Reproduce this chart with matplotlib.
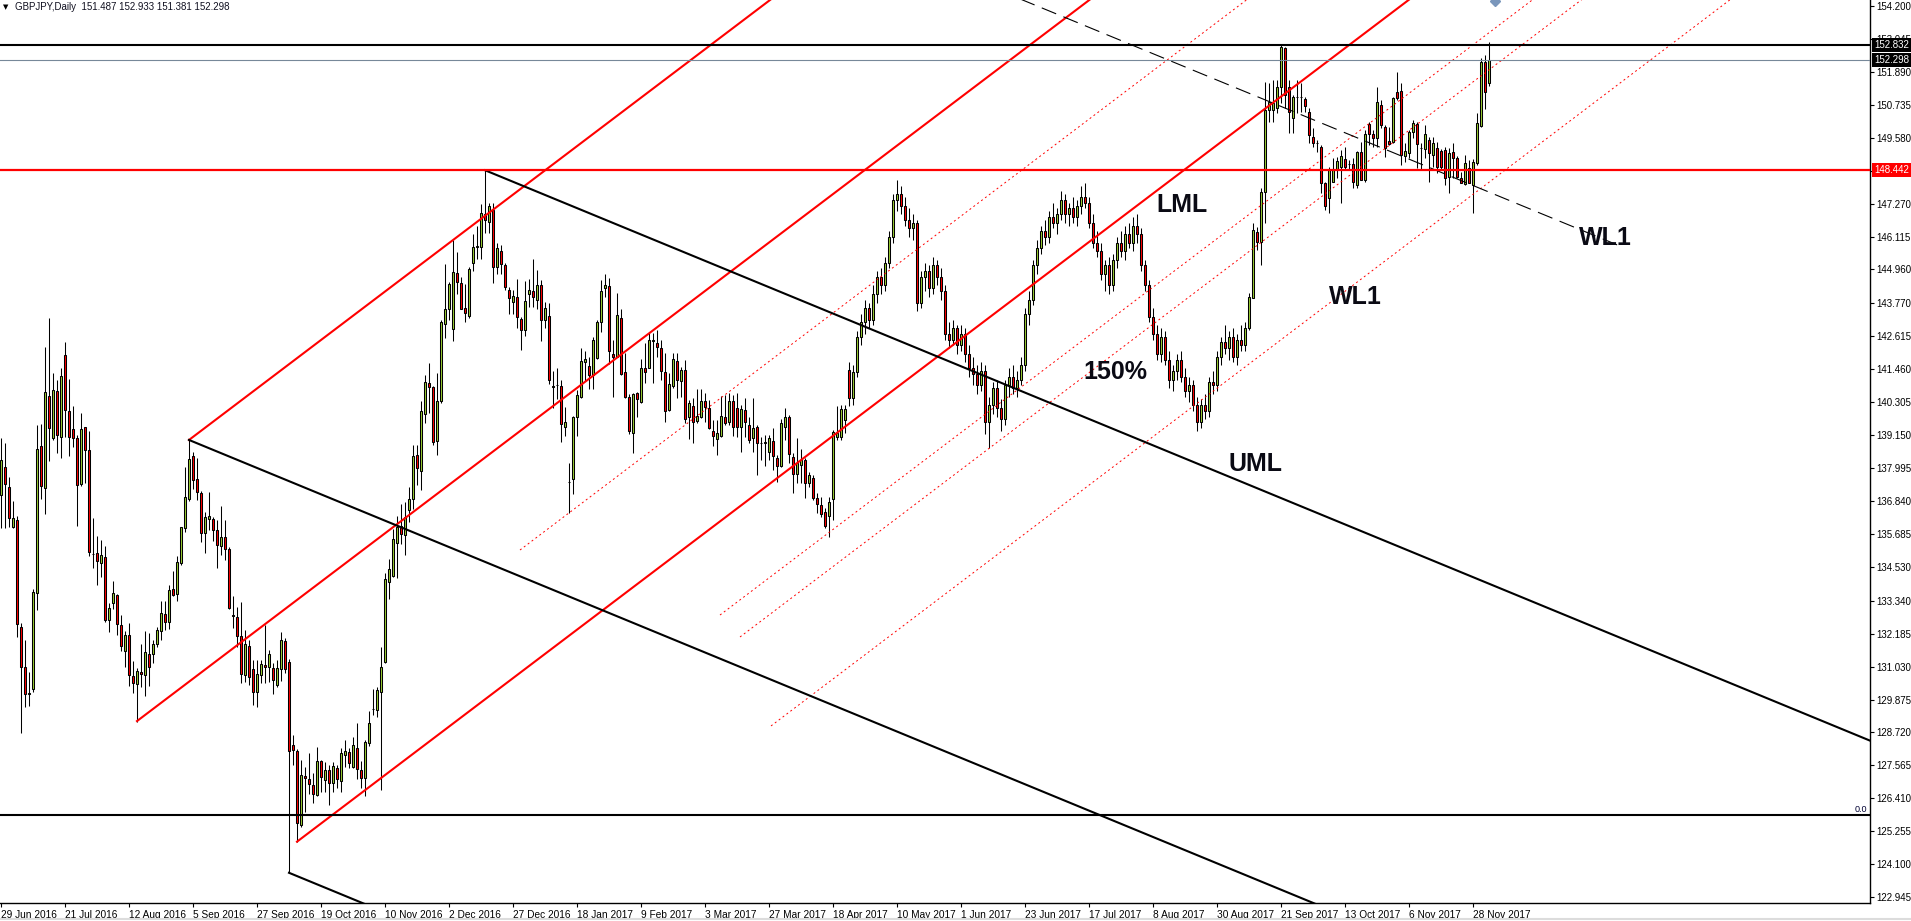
import matplotlib
matplotlib.use("Agg")
import matplotlib.pyplot as plt
import numpy as np
from matplotlib.lines import Line2D
from matplotlib.transforms import blended_transform_factory

plt.rcParams['font.family'] = ['Liberation Sans', 'DejaVu Sans']

# daily GBPJPY candles (bar 0 = 29 Jun 2016)
opens = [
    137.05, 138.02, 137.32, 135.94, 136.19, 132.43, 131.00, 130.08, 130.23, 133.60,
    138.77, 137.28, 140.51, 139.04, 140.70, 139.07, 141.96, 139.99, 139.36, 139.04,
    137.42, 139.43, 138.62, 134.97, 135.00, 134.65, 134.86, 132.66, 133.25, 133.54,
    132.49, 131.59, 132.14, 130.70, 130.41, 130.83, 130.73, 131.46, 131.49, 131.81,
    132.28, 132.87, 132.60, 133.75, 133.56, 134.67, 135.90, 136.90, 138.42, 137.60,
    137.13, 135.70, 136.22, 136.20, 135.82, 135.27, 135.56, 135.14, 132.82, 132.76,
    132.10, 130.74, 131.75, 130.93, 130.15, 130.73, 131.09, 131.03, 130.97, 130.38,
    130.93, 131.93, 131.18, 128.28, 128.07, 125.47, 127.19, 127.08, 126.88, 126.52,
    127.72, 127.05, 127.40, 126.94, 127.46, 127.03, 127.93, 128.02, 127.52, 128.19,
    127.40, 127.11, 128.36, 129.53, 129.51, 130.14, 131.20, 133.99, 134.22, 135.36,
    135.97, 135.64, 136.53, 136.90, 138.44, 137.90, 139.90, 140.98, 140.84, 138.95,
    140.33, 143.05, 143.59, 142.87, 144.82, 144.48, 143.61, 143.33, 145.18, 145.75,
    145.76, 146.90, 146.64, 147.05, 145.05, 145.59, 145.13, 144.25, 143.82, 143.99,
    143.22, 142.84, 144.10, 144.21, 143.90, 144.41, 143.18, 143.33, 140.84, 140.90,
    140.87, 139.44, 137.49, 137.60, 139.77, 140.47, 141.70, 141.57, 141.26, 141.84,
    143.10, 144.30, 144.38, 141.98, 141.90, 143.24, 141.35, 140.50, 139.23, 140.61,
    140.30, 141.49, 141.51, 142.45, 142.39, 142.19, 141.35, 140.03, 140.87, 141.75,
    141.06, 141.43, 139.77, 140.17, 139.64, 139.80, 140.35, 140.09, 139.30, 139.03,
    139.12, 139.80, 139.62, 140.36, 140.09, 139.45, 140.03, 139.50, 139.04, 139.44,
    138.86, 138.86, 138.57, 138.94, 138.33, 138.07, 139.45, 139.80, 138.39, 137.78,
    138.10, 138.28, 137.46, 137.63, 136.93, 136.70, 136.46, 136.31, 136.90, 139.09,
    139.07, 139.68, 141.43, 140.44, 141.35, 142.60, 143.10, 143.60, 143.20, 144.10,
    144.70, 144.40, 145.20, 146.10, 147.40, 147.60, 147.20, 146.70, 146.40, 146.60,
    143.80, 144.70, 144.90, 144.30, 145.10, 144.70, 144.20, 142.70, 142.50, 142.90,
    142.30, 142.70, 142.00, 141.50, 141.30, 140.90, 141.40, 139.60, 140.20, 140.80,
    140.10, 139.70, 140.90, 141.20, 140.80, 141.10, 141.60, 143.40, 143.90, 145.10,
    145.70, 146.30, 146.10, 146.80, 146.60, 146.90, 147.40, 146.90, 147.10, 146.80,
    147.20, 147.50, 147.30, 146.60, 145.90, 145.60, 144.80, 145.10, 144.40, 145.30,
    145.90, 145.60, 146.20, 145.90, 146.50, 146.20, 145.10, 144.40, 143.30, 142.70,
    142.00, 142.60, 141.80, 141.10, 141.40, 141.80, 141.20, 140.70, 140.90, 140.20,
    139.60, 140.20, 140.00, 141.00, 140.90, 141.90, 142.40, 142.20, 142.60, 141.90,
    142.50, 142.30, 142.89, 143.95, 146.28, 145.93, 147.66, 150.55, 150.55, 150.61,
    151.37, 152.71, 151.35, 150.26, 151.02, 151.02, 150.94, 150.49, 149.59, 149.38,
    149.27, 148.00, 147.45, 148.04, 148.45, 148.56, 148.83, 148.65, 148.65, 147.92,
    149.09, 148.10, 150.05, 149.70, 149.56, 150.73, 149.97, 149.46, 149.44, 151.19,
    151.22, 148.95, 149.03, 149.77, 150.05, 149.21, 149.17, 149.50, 148.97, 149.21,
    149.11, 149.15, 148.21, 149.07, 148.88, 148.16, 147.96, 148.53, 147.92, 148.68,
    150.00, 152.25, 151.487,
]
highs = [
    139.04, 138.86, 137.69, 136.84, 136.30, 132.55, 131.96, 130.83, 133.77, 139.50,
    139.54, 142.25, 143.24, 141.32, 141.08, 141.49, 142.40, 141.12, 140.17, 139.15,
    139.91, 139.44, 139.29, 136.26, 135.61, 135.47, 135.26, 133.27, 134.03, 133.56,
    132.84, 132.28, 132.57, 131.23, 130.97, 131.84, 132.28, 132.20, 131.96, 132.43,
    133.33, 133.34, 133.89, 134.39, 134.91, 135.94, 138.04, 138.98, 138.57, 138.36,
    137.20, 136.46, 137.17, 136.29, 136.17, 136.66, 136.17, 135.24, 133.50, 133.13,
    133.31, 132.31, 131.96, 131.28, 131.26, 131.28, 132.49, 131.61, 131.17, 131.28,
    132.25, 132.02, 131.30, 128.63, 128.15, 127.75, 127.52, 127.99, 127.29, 128.22,
    127.75, 127.69, 127.58, 127.69, 127.58, 128.16, 128.46, 128.16, 128.57, 129.04,
    127.73, 128.46, 129.47, 130.23, 130.33, 131.71, 134.33, 134.79, 135.87, 136.33,
    136.72, 136.79, 137.33, 138.79, 138.79, 140.33, 141.25, 141.67, 140.87, 141.33,
    143.18, 145.15, 144.53, 145.98, 145.56, 144.69, 144.44, 145.05, 146.21, 146.49,
    147.26, 148.44, 147.29, 147.29, 145.90, 145.82, 145.18, 144.33, 144.25, 144.64,
    143.30, 144.56, 144.64, 145.33, 144.95, 144.59, 143.82, 143.79, 141.41, 141.49,
    141.08, 140.15, 138.18, 139.82, 140.73, 142.22, 142.11, 141.90, 142.60, 143.19,
    144.59, 144.80, 144.65, 142.48, 144.12, 143.56, 142.02, 140.58, 140.61, 140.67,
    141.81, 142.39, 142.72, 142.72, 142.83, 142.48, 142.02, 141.32, 142.02, 142.04,
    141.55, 141.78, 140.38, 140.44, 140.75, 140.75, 140.61, 140.38, 139.68, 139.68,
    140.52, 140.55, 140.61, 140.55, 140.61, 140.21, 140.44, 139.80, 140.44, 139.50,
    139.09, 139.15, 139.15, 139.39, 138.45, 139.70, 140.09, 139.85, 138.51, 139.04,
    138.68, 138.33, 137.87, 137.75, 137.11, 136.99, 136.58, 136.99, 139.33, 140.17,
    140.21, 140.21, 141.72, 141.60, 142.80, 143.40, 143.90, 143.80, 144.40, 144.90,
    145.00, 145.40, 146.30, 147.60, 148.10, 147.90, 147.50, 147.10, 146.90, 146.70,
    144.90, 145.20, 145.10, 145.40, 145.30, 145.00, 144.40, 143.10, 143.20, 143.00,
    143.00, 142.90, 142.30, 141.90, 141.60, 141.70, 141.60, 140.50, 141.00, 141.10,
    140.40, 141.10, 141.50, 141.60, 141.40, 141.90, 143.60, 144.20, 145.30, 146.00,
    146.50, 146.70, 147.00, 147.30, 147.10, 147.70, 147.60, 147.30, 147.50, 147.40,
    147.90, 148.00, 147.50, 146.90, 146.30, 145.90, 145.30, 145.40, 145.50, 146.10,
    146.30, 146.50, 146.60, 146.80, 146.90, 146.40, 145.30, 144.60, 143.60, 143.00,
    142.90, 142.80, 142.10, 141.60, 142.00, 142.10, 141.50, 141.20, 141.10, 140.50,
    140.40, 140.60, 141.20, 141.40, 142.10, 142.60, 143.00, 142.80, 142.90, 142.70,
    143.00, 143.10, 144.12, 146.58, 146.46, 147.80, 151.55, 151.49, 151.60, 151.60,
    152.83, 152.77, 151.60, 151.08, 151.60, 151.49, 151.02, 150.61, 149.91, 149.50,
    149.32, 148.04, 148.54, 148.88, 148.91, 149.15, 149.27, 148.80, 148.86, 149.11,
    149.44, 149.85, 150.14, 149.85, 151.37, 150.90, 150.03, 149.97, 151.02, 151.90,
    151.49, 149.38, 149.85, 150.20, 150.14, 149.38, 150.03, 149.62, 149.62, 149.44,
    149.17, 149.27, 149.23, 149.38, 148.94, 148.39, 148.97, 148.80, 148.83, 150.43,
    152.36, 152.48, 152.933,
]
lows = [
    135.88, 135.88, 135.94, 135.88, 132.08, 128.69, 129.62, 129.65, 130.15, 133.01,
    136.91, 136.40, 138.25, 138.98, 138.51, 138.33, 139.09, 138.43, 138.74, 135.97,
    137.36, 137.48, 134.91, 134.50, 133.91, 134.18, 132.60, 132.25, 133.05, 132.14,
    131.58, 131.03, 130.35, 130.09, 129.10, 130.30, 130.01, 130.36, 131.17, 131.73,
    131.96, 132.31, 132.34, 133.50, 133.34, 134.59, 135.74, 136.85, 137.25, 136.87,
    135.41, 135.03, 135.82, 135.45, 134.48, 134.94, 134.77, 133.04, 132.37, 131.73,
    130.44, 130.50, 130.38, 129.68, 129.62, 130.44, 130.47, 130.50, 130.07, 130.33,
    130.54, 130.79, 123.80, 127.58, 124.89, 125.40, 125.94, 126.58, 126.23, 126.49,
    126.64, 126.64, 126.17, 126.64, 126.76, 126.64, 127.52, 127.49, 127.46, 127.08,
    126.76, 126.50, 128.25, 129.33, 129.25, 126.71, 131.17, 133.41, 134.18, 134.13,
    135.33, 134.94, 136.10, 136.56, 137.41, 137.21, 139.56, 139.94, 138.79, 138.44,
    140.28, 142.56, 143.18, 142.44, 144.10, 143.56, 143.10, 143.25, 144.90, 145.33,
    145.33, 146.25, 146.25, 144.49, 144.79, 144.79, 144.25, 143.41, 143.41, 142.90,
    142.13, 142.64, 143.64, 143.64, 143.56, 142.44, 142.90, 140.95, 140.10, 140.40,
    138.92, 139.12, 136.43, 137.07, 139.12, 140.44, 141.05, 140.75, 140.75, 141.81,
    142.78, 143.98, 141.64, 140.47, 141.88, 141.26, 140.45, 139.19, 138.53, 139.80,
    140.26, 140.99, 141.49, 140.99, 141.90, 141.08, 139.62, 140.01, 140.81, 140.44,
    140.50, 139.56, 139.01, 138.86, 139.56, 139.76, 139.62, 139.35, 138.76, 138.45,
    139.09, 139.50, 139.50, 139.12, 139.09, 138.57, 139.09, 138.86, 138.57, 137.75,
    138.28, 138.06, 138.28, 137.92, 137.52, 138.04, 138.98, 138.16, 137.11, 137.46,
    137.46, 136.93, 137.34, 136.87, 136.41, 136.29, 135.90, 135.59, 136.17, 138.98,
    138.98, 139.21, 140.17, 140.20, 141.20, 142.30, 142.70, 142.90, 143.00, 143.80,
    144.10, 144.20, 145.00, 145.90, 147.00, 146.90, 146.50, 146.10, 146.00, 143.50,
    143.60, 144.20, 144.00, 144.10, 144.40, 143.90, 142.50, 142.20, 142.30, 142.00,
    142.10, 141.70, 141.20, 140.90, 140.60, 140.70, 139.20, 138.70, 139.90, 139.80,
    139.30, 139.50, 140.50, 140.60, 140.50, 140.90, 141.40, 143.00, 143.70, 144.80,
    145.50, 145.80, 145.90, 146.40, 146.20, 146.70, 146.60, 146.50, 146.60, 146.50,
    146.90, 147.10, 146.40, 145.70, 145.40, 144.60, 144.20, 144.10, 144.20, 145.00,
    145.40, 145.30, 145.70, 145.60, 145.90, 144.90, 144.20, 143.10, 142.50, 141.80,
    141.70, 141.60, 140.80, 140.70, 141.10, 141.00, 140.50, 140.30, 140.00, 139.30,
    139.40, 139.70, 139.80, 140.60, 140.70, 141.60, 142.00, 141.80, 141.70, 141.60,
    142.10, 142.10, 142.84, 143.95, 145.64, 145.12, 146.58, 150.14, 150.14, 150.43,
    150.79, 150.61, 149.73, 149.73, 150.43, 150.49, 150.49, 149.38, 149.27, 149.09,
    147.63, 147.05, 146.95, 148.04, 148.16, 147.28, 148.45, 148.45, 147.80, 147.80,
    148.10, 148.04, 149.32, 149.27, 149.27, 149.91, 148.91, 149.32, 149.38, 150.90,
    148.62, 148.74, 148.86, 149.56, 148.51, 148.45, 148.86, 148.04, 148.56, 148.33,
    148.45, 147.92, 147.63, 148.16, 148.16, 147.98, 147.92, 147.98, 146.95, 148.62,
    149.97, 150.57, 151.381,
]
closes = [
    138.28, 137.42, 136.23, 136.26, 132.52, 131.01, 130.06, 130.10, 133.63, 138.68,
    137.38, 140.65, 139.39, 140.73, 139.15, 141.22, 140.02, 139.07, 139.04, 137.39,
    139.36, 138.64, 135.04, 134.99, 134.74, 134.94, 132.66, 133.07, 133.60, 132.51,
    131.77, 132.14, 130.72, 130.44, 130.87, 130.77, 131.53, 131.00, 131.81, 132.31,
    132.90, 132.60, 133.72, 133.54, 134.69, 135.92, 136.99, 138.30, 137.58, 137.14,
    135.73, 136.27, 136.31, 135.82, 135.31, 135.56, 135.14, 133.07, 132.84, 132.11,
    130.77, 131.82, 130.65, 130.15, 130.77, 131.11, 131.00, 131.46, 130.56, 130.97,
    131.98, 130.93, 128.08, 128.10, 125.56, 127.23, 127.11, 126.91, 126.58, 127.72,
    127.15, 127.40, 126.94, 127.54, 127.08, 128.01, 128.07, 127.66, 128.28, 127.43,
    127.11, 128.37, 129.06, 129.55, 130.20, 131.02, 134.10, 134.44, 135.51, 135.94,
    135.67, 136.28, 136.90, 138.41, 137.99, 139.98, 141.02, 140.82, 138.92, 140.36,
    143.10, 143.59, 144.45, 144.87, 144.52, 143.59, 143.45, 144.98, 145.75, 145.79,
    146.95, 146.69, 147.18, 145.05, 145.72, 145.15, 144.36, 143.95, 144.02, 143.28,
    142.84, 143.84, 144.25, 143.99, 144.41, 143.18, 143.61, 141.10, 140.86, 140.92,
    139.53, 139.60, 137.52, 139.77, 140.56, 141.75, 141.81, 141.26, 142.48, 143.10,
    144.20, 144.42, 142.10, 141.88, 143.36, 141.28, 140.50, 139.30, 140.58, 140.40,
    141.49, 141.35, 142.48, 142.47, 142.25, 141.41, 140.00, 140.93, 141.81, 141.08,
    141.43, 139.70, 140.26, 139.60, 139.82, 140.35, 140.12, 139.39, 139.12, 139.21,
    139.82, 139.56, 140.36, 139.44, 139.44, 140.05, 139.62, 138.98, 139.39, 138.86,
    138.88, 138.90, 139.04, 138.42, 138.07, 139.56, 139.80, 138.49, 137.78, 138.18,
    138.28, 137.46, 137.75, 136.93, 136.73, 136.38, 135.96, 136.81, 139.27, 139.23,
    140.05, 140.05, 140.44, 141.35, 142.60, 143.10, 143.60, 143.20, 144.10, 144.70,
    144.40, 145.20, 146.10, 147.40, 147.60, 147.20, 146.70, 146.40, 146.60, 143.80,
    144.70, 144.90, 144.30, 145.10, 144.70, 144.20, 142.70, 142.50, 142.90, 142.30,
    142.70, 142.00, 141.50, 141.30, 140.90, 141.40, 139.60, 140.20, 140.80, 140.10,
    139.70, 140.90, 141.20, 140.80, 141.10, 141.60, 143.40, 143.90, 145.10, 145.70,
    146.30, 146.10, 146.80, 146.60, 146.90, 147.40, 146.90, 147.10, 146.80, 147.20,
    147.50, 147.30, 146.60, 145.90, 145.60, 144.80, 145.10, 144.40, 145.30, 145.90,
    145.60, 146.20, 145.90, 146.50, 146.20, 145.10, 144.40, 143.30, 142.70, 142.00,
    142.60, 141.80, 141.10, 141.40, 141.80, 141.20, 140.70, 140.90, 140.20, 139.60,
    140.20, 140.00, 141.00, 140.90, 141.90, 142.40, 142.20, 142.60, 141.90, 142.50,
    142.30, 142.89, 144.00, 146.34, 145.93, 147.66, 150.55, 150.84, 150.79, 151.35,
    152.75, 151.08, 150.49, 151.02, 151.02, 151.02, 150.69, 149.67, 149.38, 149.38,
    147.98, 147.19, 148.45, 148.48, 148.76, 148.95, 148.56, 148.65, 148.04, 149.09,
    148.10, 149.70, 149.71, 149.58, 150.84, 150.03, 149.21, 149.35, 150.96, 150.96,
    148.97, 149.11, 149.77, 150.08, 149.35, 149.21, 149.70, 149.03, 149.38, 148.56,
    148.54, 148.16, 149.03, 148.86, 148.21, 148.00, 148.68, 147.98, 148.72, 150.08,
    152.25, 151.17, 152.298,
]

date_labels = ["29 Jun 2016", "21 Jul 2016", "12 Aug 2016", "5 Sep 2016", "27 Sep 2016",
               "19 Oct 2016", "10 Nov 2016", "2 Dec 2016", "27 Dec 2016", "18 Jan 2017",
               "9 Feb 2017", "3 Mar 2017", "27 Mar 2017", "18 Apr 2017", "10 May 2017",
               "1 Jun 2017", "23 Jun 2017", "17 Jul 2017", "8 Aug 2017", "30 Aug 2017",
               "21 Sep 2017", "13 Oct 2017", "6 Nov 2017", "28 Nov 2017"]
label_step = 16

price_ticks = [154.200, 153.045, 151.890, 150.735, 149.580, 148.425, 147.270, 146.115,
               144.960, 143.770, 142.615, 141.460, 140.305, 139.150, 137.995, 136.840,
               135.685, 134.530, 133.340, 132.185, 131.030, 129.875, 128.720, 127.565,
               126.410, 125.255, 124.100, 122.945]

resistance = 152.832
bid = 152.298
support = 148.442
fib_zero = 125.82

# pitchfork anchor points (bar, price): handle, then the two swing points
red_fork = [(34, 129.12), (47, 138.98), (74, 124.89)]
black_fork = [(47, 138.98), (121, 148.44), (72, 123.80)]
red_dotted_starts = [(129.75, 135.12), (179.75, 132.84), (184.75, 132.07), (192.5, 128.95)]
wl1_start, wl1_end = 150, 405

notes = [("LML", 295.25, 147.22), ("WL1", 338.5, 143.99), ("150%", 278.5, 141.36),
         ("UML", 313.5, 138.14), ("WL1", 401, 146.06)]

title = "GBPJPY,Daily  151.487 152.933 151.381 152.298"

W, H = 1911, 921
fig = plt.figure(figsize=(W / 100, H / 100), dpi=100)
ax = fig.add_axes([0, 18 / H, 1870 / W, 903 / H])
x_max = 467.25
ax.set_xlim(-0.25, x_max)
ax.set_ylim(122.74, 154.41)

o = np.array(opens)
h = np.array(highs)
l = np.array(lows)
c = np.array(closes)
x = np.arange(len(o))
up = c >= o

# candles
ax.vlines(x, l, h, color='black', linewidth=0.75, zorder=3)
ax.bar(x[up], (c - o)[up], bottom=o[up], width=0.55, color='#9acd32',
       edgecolor='black', linewidth=0.75, zorder=4)
ax.bar(x[~up], (c - o)[~up], bottom=o[~up], width=0.55, color='#ff0000',
       edgecolor='black', linewidth=0.75, zorder=4)


def fork_slope(fork):
    (x0, y0), (x1, y1), (x2, y2) = fork
    return ((y1 + y2) / 2 - y0) / ((x1 + x2) / 2 - x0)


def ray(x0, y0, slope, x1=x_max, **kw):
    ax.plot([x0, x1], [y0, y0 + slope * (x1 - x0)], **kw)


s_red = fork_slope(red_fork)
s_black = fork_slope(black_fork)

for px, py in red_fork:
    ray(px, py, s_red, color='red', linewidth=1.5, zorder=5)
for px, py in red_dotted_starts:
    ray(px, py, s_red, color='red', linewidth=0.7, dashes=(2, 3), zorder=5)
for px, py in black_fork:
    ray(px, py, s_black, color='black', linewidth=1.5, zorder=5)

# warning line: upper line shifted by one more fork width
(mx, my), (ux, uy), _ = black_fork
wl1_y0 = 2 * (uy + s_black * (wl1_start - ux)) - (my + s_black * (wl1_start - mx))
ray(wl1_start, wl1_y0, s_black, x1=wl1_end, color='black', linewidth=0.8,
    dashes=(14, 7), zorder=5)

# horizontal levels
ax.axhline(resistance, color='black', linewidth=1.5, zorder=5)
ax.axhline(bid, color='#778899', linewidth=0.8, zorder=5)
ax.axhline(support, color='red', linewidth=1.6, zorder=5)
ax.axhline(fib_zero, color='black', linewidth=1.5, zorder=5)
ax.text(466.5, fib_zero + 0.05, "0.0", ha='right', va='bottom', fontsize=6.5,
        color='#000033', zorder=6)

for s, tx, ty in notes:
    ax.text(tx, ty, s, fontsize=18, fontweight='bold', ha='center', va='center',
            color='#0a0a14', zorder=7)

ax.plot(373.5, 154.36, marker='D', markersize=5, color='#7a96bb', zorder=6)

# axes styling
ax.spines['left'].set_visible(False)
ax.spines['top'].set_visible(False)
ax.spines['right'].set_linewidth(1)
ax.spines['bottom'].set_linewidth(1)

ax.yaxis.tick_right()
ax.set_yticks(price_ticks)
ax.set_yticklabels([f"{v:.3f}" for v in price_ticks])
ax.tick_params(axis='y', length=3, width=0.8, pad=1.5, labelsize=7)

ax.set_xticks(np.arange(len(date_labels)) * label_step)
ax.set_xticklabels(date_labels)
for lbl in ax.get_xticklabels():
    lbl.set_horizontalalignment('left')
ax.tick_params(axis='x', length=3, width=0.8, pad=2, labelsize=7.3)

trans = blended_transform_factory(ax.transAxes, ax.transData)
for val, fc in [(resistance, 'black'), (bid, 'black'), (support, '#ff0000')]:
    ax.text(1 + 4 / 1870, val, f"{val:.3f}", transform=trans, ha='left', va='center',
            fontsize=7, color='white', clip_on=False, zorder=10,
            bbox=dict(boxstyle='square,pad=0.18', fc=fc, ec='none'))

fig.text(3 / W, 1 - 7 / H, "\u25bc", fontsize=5, family='DejaVu Sans', va='center')
fig.text(15 / W, 1 - 7 / H, title, fontsize=7, va='center', ha='left', color='#101020')
fig.add_artist(Line2D([0, 1], [2 / H, 2 / H], color='#dcdcdc', linewidth=1.5))

fig.savefig("out.png", dpi=100, facecolor='white')
